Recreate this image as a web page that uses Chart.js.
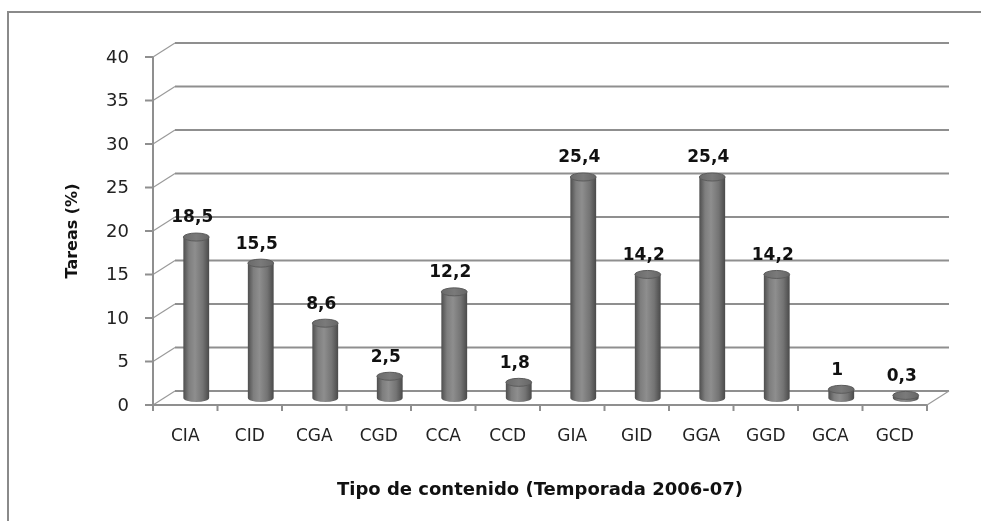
<!DOCTYPE html>
<html>
<head>
<meta charset="utf-8">
<script src="https://cdn.jsdelivr.net/npm/chart.js@4/dist/chart.umd.min.js"></script>
<style>
html,body{margin:0;padding:0;background:#fff;}
canvas{display:block;}
</style>
</head>
<body>
<canvas id="c" width="981" height="521"></canvas>
<script>
const categories = ['CIA','CID','CGA','CGD','CCA','CCD','GIA','GID','GGA','GGD','GCA','GCD'];
const values = [18.5, 15.5, 8.6, 2.5, 12.2, 1.8, 25.4, 14.2, 25.4, 14.2, 1, 0.3];
const yTickValues = [0, 5, 10, 15, 20, 25, 30, 35, 40];
const yTitle = 'Tareas (%)';
const xTitle = 'Tipo de contenido (Temporada 2006-07)';

const fmt = v => String(v).replace('.', ',');

// half-depth offsets of the pseudo 3D look
const DX = 11, DY = 7;
const GRID = '#8f8f8f';

const pseudo3d = {
  id: 'pseudo3d',
  beforeDraw(chart) {
    const ctx = chart.ctx;
    ctx.save();
    ctx.fillStyle = '#fff';
    ctx.fillRect(0, 0, chart.width, chart.height);
    ctx.strokeStyle = '#8a8a8a';
    ctx.lineWidth = 2;
    ctx.beginPath();
    ctx.moveTo(8, chart.height + 2);
    ctx.lineTo(8, 12);
    ctx.lineTo(chart.width + 2, 12);
    ctx.stroke();
    ctx.restore();
  },
  beforeDatasetsDraw(chart) {
    const ctx = chart.ctx;
    const xs = chart.scales.x, ys = chart.scales.y;
    const ca = chart.chartArea;
    const frontL = ca.left - DX, frontR = ca.right - DX;
    const backL = ca.left + DX, backR = ca.right + DX;
    ctx.save();
    yTickValues.forEach(v => {
      const y = ys.getPixelForValue(v);
      ctx.strokeStyle = GRID;
      ctx.lineWidth = 2;
      ctx.beginPath();
      ctx.moveTo(backL, y - DY);
      ctx.lineTo(backR, y - DY);
      ctx.stroke();
      ctx.lineWidth = 1.2;
      ctx.strokeStyle = '#9a9a9a';
      ctx.beginPath();
      ctx.moveTo(frontL, y + DY);
      ctx.lineTo(backL, y - DY);
      ctx.stroke();
      ctx.lineWidth = 2;
      ctx.strokeStyle = GRID;
      ctx.beginPath();
      ctx.moveTo(frontL - 8, y + DY);
      ctx.lineTo(frontL, y + DY);
      ctx.stroke();
    });
    const yTop = ys.getPixelForValue(yTickValues[yTickValues.length - 1]) + DY;
    const y0 = ys.getPixelForValue(0);
    ctx.strokeStyle = GRID;
    ctx.lineWidth = 2;
    ctx.beginPath();
    ctx.moveTo(frontL, yTop);
    ctx.lineTo(frontL, y0 + DY);
    ctx.stroke();
    ctx.beginPath();
    ctx.moveTo(frontL, y0 + DY);
    ctx.lineTo(frontR, y0 + DY);
    ctx.stroke();
    ctx.lineWidth = 1.2;
    ctx.strokeStyle = '#9a9a9a';
    ctx.beginPath();
    ctx.moveTo(frontR, y0 + DY);
    ctx.lineTo(backR, y0 - DY);
    ctx.stroke();
    ctx.lineWidth = 2;
    ctx.strokeStyle = GRID;
    const n = categories.length;
    const step = (ca.right - ca.left) / n;
    for (let i = 0; i <= n; i++) {
      const cx = (i < n ? xs.getPixelForValue(i) - step / 2 : xs.getPixelForValue(n - 1) + step / 2) - DX;
      ctx.beginPath();
      ctx.moveTo(cx, y0 + DY);
      ctx.lineTo(cx, y0 + DY + 6);
      ctx.stroke();
    }
    ctx.restore();
  },
  afterDatasetsDraw(chart) {
    const ctx = chart.ctx;
    const ys = chart.scales.y;
    const meta = chart.getDatasetMeta(0);
    ctx.save();
    meta.data.forEach((el, i) => {
      const p = el.getProps(['x', 'y', 'base', 'width'], true);
      const rx = p.width / 2, ry = 4;
      const L = p.x - rx, R = p.x + rx;
      const g = ctx.createLinearGradient(L, 0, R, 0);
      g.addColorStop(0, '#4e4e4e');
      g.addColorStop(0.22, '#7e7e7e');
      g.addColorStop(0.45, '#8e8e8e');
      g.addColorStop(0.75, '#747474');
      g.addColorStop(1, '#4a4a4a');
      ctx.fillStyle = g;
      ctx.beginPath();
      ctx.moveTo(L, p.y);
      ctx.lineTo(L, p.base);
      ctx.ellipse(p.x, p.base, rx, ry, 0, Math.PI, 0, true);
      ctx.lineTo(R, p.y);
      ctx.closePath();
      ctx.fill();
      const tg = ctx.createLinearGradient(L, 0, R, 0);
      tg.addColorStop(0, '#6a6a6a');
      tg.addColorStop(0.5, '#7a7a7a');
      tg.addColorStop(1, '#666');
      ctx.fillStyle = tg;
      ctx.strokeStyle = '#5c5c5c';
      ctx.lineWidth = 1;
      ctx.beginPath();
      ctx.ellipse(p.x, p.y, rx, ry, 0, 0, Math.PI * 2);
      ctx.fill();
      ctx.stroke();
      ctx.fillStyle = '#111';
      ctx.font = 'bold 17px "DejaVu Sans"';
      ctx.textAlign = 'center';
      ctx.textBaseline = 'middle';
      ctx.fillText(fmt(values[i]), p.x - 4, p.y - 19);
      ctx.fillStyle = '#222';
      ctx.font = '17px "DejaVu Sans"';
      ctx.fillText(categories[i], p.x - DX, 437);
    });
    ctx.fillStyle = '#222';
    ctx.font = '18px "DejaVu Sans"';
    ctx.textAlign = 'right';
    ctx.textBaseline = 'middle';
    yTickValues.forEach(v => {
      ctx.fillText(String(v), 129, ys.getPixelForValue(v) + DY + 1);
    });
    ctx.fillStyle = '#111';
    ctx.font = 'bold 18px "DejaVu Sans"';
    ctx.textAlign = 'center';
    ctx.fillText(xTitle, 540, 490);
    ctx.save();
    ctx.translate(73, (ys.getPixelForValue(40) + ys.getPixelForValue(0)) / 2 + DY);
    ctx.rotate(-Math.PI / 2);
    ctx.font = 'bold 16px "DejaVu Sans"';
    ctx.fillText(yTitle, 0, 0);
    ctx.restore();
    ctx.restore();
  }
};

new Chart(document.getElementById('c'), {
  type: 'bar',
  data: {
    labels: categories,
    datasets: [{
      data: values,
      backgroundColor: 'rgba(0,0,0,0)',
      borderWidth: 0,
      barPercentage: 0.4,
      categoryPercentage: 1
    }]
  },
  options: {
    responsive: false,
    animation: false,
    devicePixelRatio: 1,
    layout: { padding: { left: 164, top: 50, right: 43, bottom: 123 } },
    scales: {
      x: { display: false },
      y: { display: false, min: 0, max: 40, ticks: { stepSize: 5 } }
    },
    plugins: { legend: { display: false }, tooltip: { enabled: false } }
  },
  plugins: [pseudo3d]
});
</script>
</body>
</html>
